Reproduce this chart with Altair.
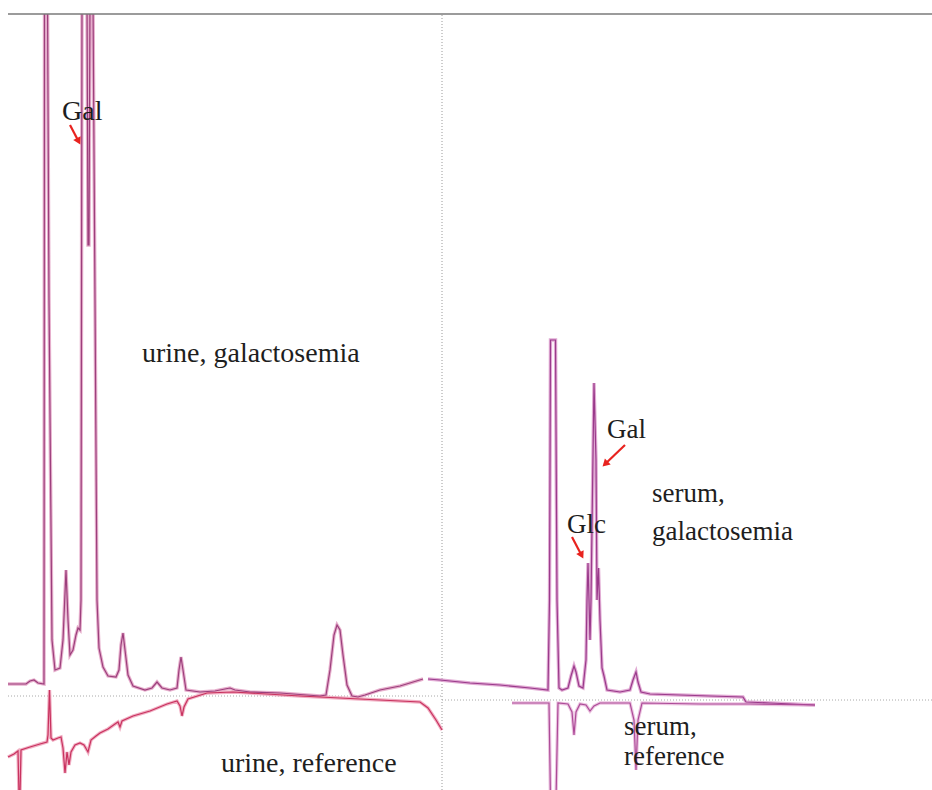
import math
import altair as alt
import pandas as pd

# ---------------- data (time units, detector signal) -------------
urine_gal_t = [8, 26, 30, 34, 38, 44, 44.5, 47.5, 49, 52, 55, 60, 63, 66, 68, 70, 73, 76, 78, 80, 81,
               82, 87, 88, 89, 90, 93, 95, 97, 99, 103, 108, 116, 119, 121, 123, 125, 128, 133, 145,
               152, 157, 162, 170, 177, 179, 181, 183, 186, 200, 215, 225, 230, 235, 250, 280, 320,
               326, 330, 334, 337, 340, 343, 347, 352, 358, 365, 380, 400, 423]
urine_gal_s = [106, 106, 109, 110, 107, 106, 790, 790, 490, 150, 120, 122, 150, 220, 170, 135, 140, 155,
               162, 160, 190, 790, 790, 545, 545, 790, 790, 490, 190, 142, 123, 114, 113, 120, 145, 157,
               140, 115, 104, 100, 102, 108, 102, 100, 102, 120, 133, 120, 100, 98, 99, 101, 102, 100,
               98, 97, 94, 95, 120, 155, 165, 160, 135, 105, 94, 93, 95, 100, 104, 111]

urine_ref_t = [8, 14, 18, 19, 20, 21, 30, 40, 47, 48, 49.5, 51, 53, 58, 61, 63, 65, 67, 69, 71, 75, 80,
               84, 88, 91, 96, 100, 108, 115, 118, 120, 122, 133, 150, 167, 177, 180, 182, 184, 188,
               207, 233, 300, 360, 420, 428, 436, 442]
urine_ref_s = [33, 36, 39, -5, -5, 40, 43, 46, 48, 55, 100, 52, 50, 52, 53, 42, 17, 38, 25, 38, 45, 47,
               45, 38, 50, 54, 57, 61, 66, 68, 63, 69, 74, 79, 86, 89, 84, 74, 83, 91, 97, 98, 94, 91,
               88, 82, 70, 60]

serum_gal_t = [428, 440, 470, 500, 530, 548, 549.5, 550.5, 555.5, 557, 559, 562, 568, 571, 574, 576,
               579, 583, 586, 587, 588, 589, 590, 591, 594, 596, 597, 598.5, 600, 602, 604, 607, 620,
               630, 633, 636, 638, 641, 650, 680, 710, 743, 746, 770, 815]
serum_gal_s = [111, 110, 107, 105, 102, 100, 190, 450, 450, 190, 102, 100, 102, 114, 124, 118, 104, 102,
               130, 190, 227, 190, 150, 190, 407, 330, 190, 222, 170, 122, 114, 100, 98, 100, 110, 118,
               108, 98, 96, 95, 94, 93, 88, 87, 85]

serum_ref_t = [512, 530, 549, 550.5, 556, 558, 568, 572, 574, 576, 580, 586, 590, 594, 600, 630, 634,
               636, 638, 642, 700, 750, 815]
serum_ref_s = [87, 87, 87, -10, -10, 87, 86, 78, 55, 78, 86, 85, 79, 84, 87, 87, 70, 20, 70, 87, 86, 86,
               85]

label_text = ["Gal", "urine, galactosemia", "urine, reference", "Gal", "Glc",
              "serum,", "galactosemia", "serum,", "reference"]
label_t = [62, 142, 221, 607, 567, 652, 652, 624, 624]
label_s = [670, 428, 18, 352, 257, 288, 250, 55, 25]
label_size = [28, 28, 28, 27, 27, 27, 27, 27, 27]

arrow_t = [70, 625, 572]
arrow_s = [665, 345, 253]
arrow_t2 = [80, 603, 583]
arrow_s2 = [646, 324, 232]

T_MAX = 932
S_MAX = 776

# ---------------- tables -------------
rows = []
for name, ts, ss in [("urine_gal", urine_gal_t, urine_gal_s),
                     ("urine_ref", urine_ref_t, urine_ref_s),
                     ("serum_gal", serum_gal_t, serum_gal_s),
                     ("serum_ref", serum_ref_t, serum_ref_s)]:
    for i, (t, s) in enumerate(zip(ts, ss)):
        rows.append({"trace": name, "t": t, "s": s, "i": i})
traces = pd.DataFrame(rows)

labels = pd.DataFrame({"t": label_t, "s": label_s, "label": label_text, "size": label_size})

arr_rows = []
for t1, s1, t2, s2 in zip(arrow_t, arrow_s, arrow_t2, arrow_s2):
    dt, ds = t2 - t1, s2 - s1
    L = math.hypot(dt, ds)
    ut, us = dt / L, ds / L
    ang = math.degrees(math.atan2(dt, ds)) % 360
    arr_rows.append({"t": t1, "s": s1, "te": t2 - 4 * ut, "se": s2 - 4 * us,
                     "th": t2 - 3 * ut, "sh": s2 - 3 * us, "angle": ang})
arrows = pd.DataFrame(arr_rows)

guides = pd.DataFrame({
    "t": [8, 442, 8, 442], "t2": [T_MAX, 442, 442, T_MAX],
    "s": [S_MAX, 0, 94, 90], "s2": [S_MAX, S_MAX, 94, 90],
    "kind": ["frame", "vdot", "hdot", "hdot2"],
})

xs = alt.Scale(domain=[0, T_MAX], nice=False, zero=False)
ys = alt.Scale(domain=[0, S_MAX], nice=False, zero=False)
X = lambda f: alt.X(f, type="quantitative", scale=xs, axis=None)
Y = lambda f: alt.Y(f, type="quantitative", scale=ys, axis=None)

trace_names = ["urine_gal", "urine_ref", "serum_gal", "serum_ref"]
under_cols = ["#e2a0c3", "#eea2ba", "#dc9ccd", "#e8b8da"]
over_cols = ["#9c3f7c", "#c8325f", "#9a3a8b", "#ad4b98"]

base_tr = alt.Chart(traces)
under = base_tr.mark_line(strokeWidth=3.4, clip=True, opacity=0.85).encode(
    x=X("t"), y=Y("s"), order="i:Q",
    color=alt.Color("trace:N", scale=alt.Scale(domain=trace_names, range=under_cols), legend=None),
)
over = base_tr.mark_line(strokeWidth=1.2, clip=True).encode(
    x=X("t"), y=Y("s"), order="i:Q",
    stroke=alt.Stroke("trace:N", scale=alt.Scale(domain=trace_names, range=over_cols), legend=None),
)

frame = alt.Chart(guides[guides.kind == "frame"]).mark_rule(color="#7a7a7a", strokeWidth=1.6).encode(
    x=X("t"), x2="t2", y=Y("s"), y2="s2")
vdot = alt.Chart(guides[guides.kind == "vdot"]).mark_rule(
    color="#9a9a9a", strokeWidth=1, strokeDash=[1, 2]).encode(x=X("t"), x2="t2", y=Y("s"), y2="s2")
hdot = alt.Chart(guides[guides.kind.isin(["hdot", "hdot2"])]).mark_rule(
    color="#a8a8a8", strokeWidth=1, strokeDash=[1, 2]).encode(x=X("t"), x2="t2", y=Y("s"), y2="s2")

text = alt.Chart(labels).mark_text(
    align="left", baseline="alphabetic", font="Liberation Serif, Times New Roman, serif",
    color="#1e1e1e").encode(
    x=X("t"), y=Y("s"), text="label:N",
    size=alt.Size("size:Q", scale=None, legend=None))

shaft = alt.Chart(arrows).mark_rule(color="#e8231f", strokeWidth=2.2).encode(
    x=X("t"), y=Y("s"), x2="te", y2="se")
head = alt.Chart(arrows).mark_point(shape="triangle-up", filled=True, color="#e8231f",
                                    opacity=1, size=70).encode(
    x=X("th"), y=Y("sh"), angle=alt.Angle("angle:Q", scale=None))

chart = alt.layer(hdot, vdot, under, over, frame, shaft, head, text).resolve_scale(
    color="independent", stroke="independent").properties(
    width=T_MAX, height=S_MAX,
    padding={"left": 0, "top": 14, "right": 0, "bottom": 0},
    autosize=alt.AutoSizeParams(type="none"),
    background="white",
).configure_view(stroke=None)

chart.save("out.html", embed_options={"renderer": "svg", "actions": False})
